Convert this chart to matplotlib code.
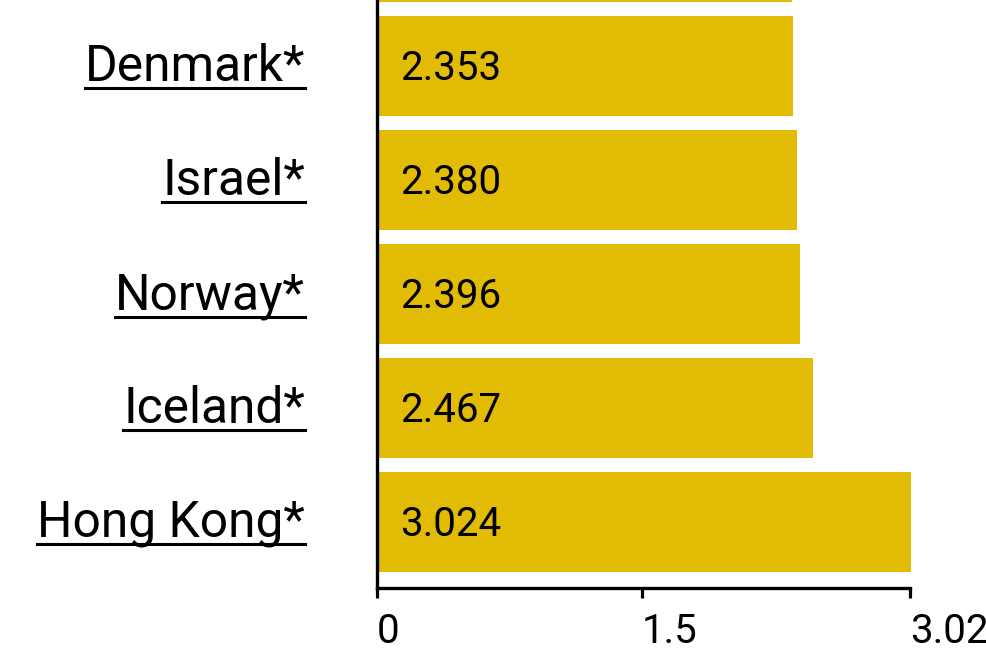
import matplotlib.pyplot as plt
from matplotlib.lines import Line2D
from matplotlib.transforms import ScaledTranslation, IdentityTransform

plt.rcParams['font.family'] = ['Roboto', 'DejaVu Sans']

# data (bottom to top); the top bar is cut off by the frame in the original
paises = ['Hong Kong*', 'Iceland*', 'Norway*', 'Israel*', 'Denmark*', '']
valores = [3.024, 2.467, 2.396, 2.380, 2.353, 2.35]
etiquetas_valor = ['3.024', '2.467', '2.396', '2.380', '2.353', '']
ticks_x = [0, 1.5, 3.02]
ticks_x_txt = ['0', '1.5', '3.02']

color_barra = '#e1bb04'

fig = plt.figure(figsize=(9.87, 6.66), dpi=100)
ax = fig.add_axes([377 / 987, 78 / 666, 534 / 987, 588 / 666])

pos = list(range(len(paises)))
ax.barh(pos, valores, height=0.88, color=color_barra)
ax.set_xlim(0, 3.024)
ax.set_ylim(-0.579, 4.579)

# value labels inside the bars
for p, v, t in zip(pos, valores, etiquetas_valor):
  ax.annotate(t, xy=(0, p), xytext=(17, -10.3), textcoords='offset points',
              ha='left', va='baseline', fontsize=29, color='black')

# country labels (underlined)
off = ScaledTranslation(-0.72, -0.15, fig.dpi_scale_trans)
textos = []
for p, nombre in zip(pos, paises):
  t = ax.text(0, p, nombre, transform=ax.transData + off, ha='right',
              va='baseline', fontsize=35.8, color='black')
  textos.append(t)

ax.set_yticks([])
ax.set_xticks(ticks_x, labels=ticks_x_txt)
ax.tick_params(axis='x', length=7.5, width=2.3, pad=10, labelsize=29, colors='black')
for lbl in ax.get_xticklabels():
  lbl.set_horizontalalignment('left')

for s in ['top', 'right']:
  ax.spines[s].set_visible(False)
ax.spines['left'].set_linewidth(2.4)
ax.spines['bottom'].set_linewidth(2.4)
ax.spines['bottom'].set_bounds(0, 3.02)

fig.canvas.draw()
for t in textos:
  if not t.get_text():
    continue
  bb = t.get_window_extent()
  y = bb.y0 + 3
  fig.add_artist(Line2D([bb.x0, bb.x1], [y, y], transform=IdentityTransform(),
                        color='black', linewidth=2.2))

fig.savefig('out.png', dpi=100)
